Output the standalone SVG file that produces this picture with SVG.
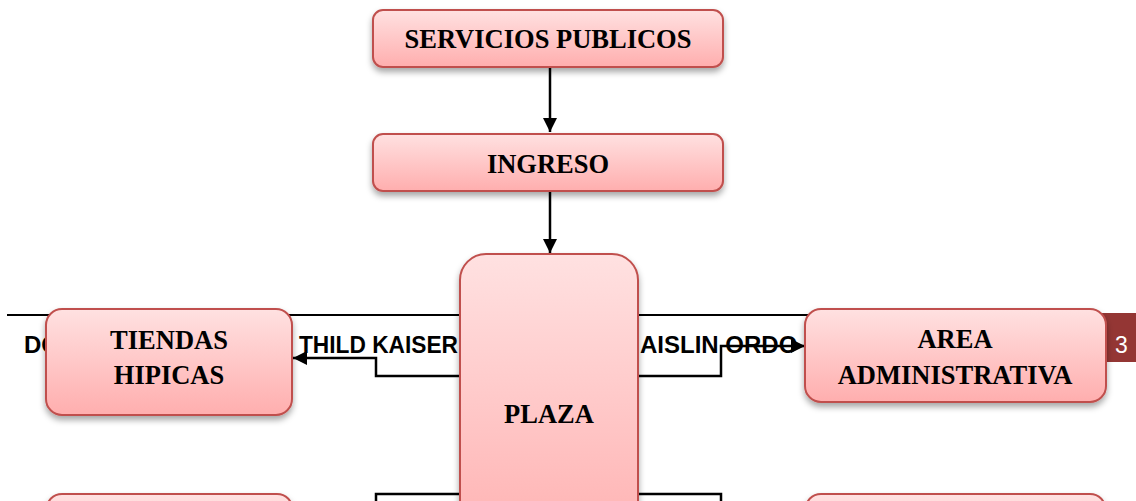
<svg xmlns="http://www.w3.org/2000/svg" width="1136" height="501" viewBox="0 0 1136 501">
<defs>
<linearGradient id="g" x1="0" y1="0" x2="0" y2="1">
<stop offset="0" stop-color="#ffe1e1"/>
<stop offset="1" stop-color="#ffaeae"/>
</linearGradient>
<linearGradient id="gp" x1="0" y1="0" x2="0" y2="1">
<stop offset="0" stop-color="#ffe1e1"/>
<stop offset="1" stop-color="#ffb0b0"/>
</linearGradient>
<filter id="sh" x="-10%" y="-10%" width="120%" height="130%">
<feDropShadow dx="0" dy="4" stdDeviation="3" flood-color="#000" flood-opacity="0.35"/>
</filter>
<marker id="ah" viewBox="0 0 10 10" refX="10" refY="5" markerWidth="14" markerHeight="14" markerUnits="userSpaceOnUse" orient="auto">
<path d="M0,0 L10,5 L0,10 z" fill="#000"/>
</marker>
<style>
.box{fill:url(#g);stroke:#c0504d;stroke-width:2;filter:url(#sh)}
.lbl{font-family:"Liberation Serif","Times New Roman",serif;font-weight:bold;font-size:26.5px;fill:#000;text-anchor:middle}
.foot{font-family:"Liberation Sans",Arial,sans-serif;font-weight:bold;font-size:24px;fill:#000}
.con{fill:none;stroke:#000;stroke-width:2.5}
</style>
</defs>
<rect width="1136" height="501" fill="#fff"/>
<g id="footer">
<line x1="7" y1="315" x2="1104" y2="315" stroke="#000" stroke-width="2"/>
<text class="foot" x="24" y="353">DO</text>
<text class="foot" x="299" y="353" textLength="159" lengthAdjust="spacingAndGlyphs">THILD KAISER</text>
<text class="foot" x="640" y="353">AISLIN ORDO</text>
<rect x="1102" y="313" width="34" height="49" fill="#943634"/>
<text x="1115" y="353" font-family="'Liberation Sans',Arial,sans-serif" font-size="23" fill="#fff">3</text>
</g>
<g id="connectors">
<path class="con" d="M550,67 V132" marker-end="url(#ah)"/>
<path class="con" d="M550,191 V253" marker-end="url(#ah)"/>
<path class="con" d="M460,376 H376 V358 H293" marker-end="url(#ah)"/>
<path class="con" d="M638,376 H721 V346 H805" marker-end="url(#ah)"/>
<path class="con" d="M460,494 H376 V505"/>
<path class="con" d="M638,494 H721 V505"/>
</g>
<g id="servicios">
<rect class="box" x="373" y="10" width="350" height="57" rx="10"/>
<text class="lbl" x="548" y="48">SERVICIOS PUBLICOS</text>
</g>
<g id="ingreso">
<rect class="box" x="373" y="134" width="350" height="57" rx="10"/>
<text class="lbl" x="548" y="173">INGRESO</text>
</g>
<g id="plaza">
<rect class="box" x="460" y="254" width="178" height="300" rx="26" style="fill:url(#gp)"/>
<text class="lbl" x="549" y="423">PLAZA</text>
</g>
<g id="tiendas">
<rect class="box" x="46" y="309" width="246" height="106" rx="16"/>
<text class="lbl" x="169" y="349">TIENDAS</text>
<text class="lbl" x="169" y="384">HIPICAS</text>
</g>
<g id="area">
<rect class="box" x="805" y="309" width="301" height="93" rx="16"/>
<text class="lbl" x="955" y="348">AREA</text>
<text class="lbl" x="955" y="384">ADMINISTRATIVA</text>
</g>
<g id="bottom-left">
<rect class="box" x="46" y="494" width="247" height="100" rx="16"/>
</g>
<g id="bottom-right">
<rect class="box" x="805" y="494" width="301" height="100" rx="16"/>
</g>
</svg>
